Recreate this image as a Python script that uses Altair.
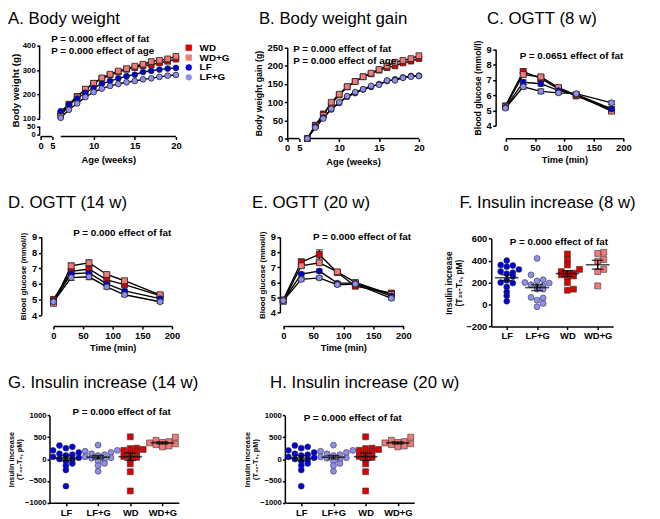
import altair as alt
import pandas as pd

FONT = "Liberation Sans"
GROUPS = ["WD", "WD+G", "LF", "LF+G"]
FILLS = ["#dd0000", "#f27a7a", "#0000dd", "#8f8ff0"]
SHAPES = ["square", "square", "circle", "circle"]
CATS = ["LF", "LF+G", "WD", "WD+G"]

# ---------- A. Body weight (g) ----------
weeks = [6, 7, 8, 9, 10, 11, 12, 13, 14, 15, 16, 17, 18, 19, 20]
bw_WD = [120, 160, 192, 220, 245, 265, 280, 292, 303, 310, 318, 322, 330, 336, 345]
bw_WDG = [112, 155, 190, 222, 246, 268, 283, 296, 306, 316, 324, 335, 340, 346, 356]
bw_LF = [131, 158, 183, 207, 226, 243, 255, 266, 275, 281, 292, 297, 302, 306, 309]
bw_LFG = [104, 137, 163, 189, 210, 224, 235, 243, 250, 255, 262, 266, 272, 277, 280]

# ---------- B. Body weight gain (g) ----------
gain_WD = [0, 37, 68, 95, 120, 142, 157, 170, 178, 188, 195, 200, 208, 213, 220]
gain_WDG = [0, 35, 64, 100, 122, 143, 157, 170, 180, 190, 200, 210, 215, 220, 228]
gain_LF = [0, 33, 58, 80, 98, 115, 125, 135, 142, 150, 158, 163, 168, 172, 173]
gain_LFG = [0, 30, 55, 82, 100, 117, 128, 136, 145, 148, 160, 160, 167, 170, 172]

# ---------- OGTT blood glucose (mmol/l) ----------
times = [0, 30, 60, 90, 120, 180]
c_WD = [5.30, 7.55, 7.10, 6.40, 5.95, 5.05]
c_WDG = [5.25, 7.35, 7.20, 6.50, 6.00, 4.95]
c_LF = [5.20, 6.85, 6.75, 6.30, 6.05, 5.10]
c_LFG = [5.15, 6.55, 6.25, 6.15, 6.10, 5.50]
c_se = [0.10, 0.15, 0.15, 0.10, 0.10, 0.12]

d_WD = [5.00, 6.80, 6.95, 6.25, 5.95, 5.25]
d_WDG = [4.75, 7.15, 7.35, 6.60, 6.20, 5.30]
d_LF = [4.90, 6.65, 6.70, 6.00, 5.55, 5.05]
d_LFG = [4.85, 6.40, 6.45, 5.80, 5.30, 4.85]
d_se = [0.10, 0.18, 0.18, 0.12, 0.10, 0.10]

e_WD = [4.85, 7.35, 7.85, 6.65, 5.75, 5.30]
e_WDG = [4.75, 7.10, 7.30, 6.70, 6.00, 5.20]
e_LF = [4.80, 6.55, 6.75, 5.95, 5.95, 5.10]
e_LFG = [4.80, 6.20, 6.30, 5.85, 5.90, 4.95]
e_se_WD = [0.10, 0.20, 0.30, 0.12, 0.10, 0.10]
e_se = [0.10, 0.12, 0.12, 0.10, 0.10, 0.10]

# ---------- Insulin increase (T30-T0, pM) ----------
f_LF = [400, 360, 355, 345, 320, 300, 290, 280, 255, 220, 200, 195, 160, 115, 80, 30]
f_LFG = [420, 270, 225, 215, 200, 195, 180, 170, 155, 140, 140, 65, 60, 40, 10, -20]
f_WD = [460, 410, 360, 320, 300, 285, 280, 270, 260, 250, 200, 140, 130]
f_WDG = [475, 465, 410, 395, 320, 300, 170]

g_LF = [310, 280, 250, 200, 150, 120, 100, 80, 50, 30, 0, -20, -50, -100, -150, -250, -620]
g_LFG = [320, 200, 180, 150, 120, 100, 80, 50, 30, 20, -20, -50, -100, -150, -280]
g_WD = [510, 250, 240, 220, 200, 180, 120, 60, 40, 20, -110, -290, -730]
g_WDG = [500, 430, 400, 380, 370, 350, 330, 300, 280]

h_LF = [310, 280, 250, 200, 150, 120, 100, 80, 50, 30, 0, -20, -50, -100, -150, -250, -620]
h_LFG = [320, 200, 180, 150, 120, 100, 80, 50, 30, 20, -20, -50, -100, -150, -280]
h_WD = [510, 250, 240, 220, 200, 180, 120, 60, 40, 20, -110, -290, -730]
h_WDG = [500, 430, 400, 380, 370, 350, 330, 300, 280]

W, H = 652, 511  # whole page area (one layered chart, every panel with its own scales)
INS_TITLE = ["Insulin increase", "(T₃₀-T₀, pM)"]


def long_df(xs, series, ses=None):
    rows = []
    for g in GROUPS:
        vals = series[g]
        se = ses[g] if ses else [0] * len(vals)
        for xi, v, s in zip(xs, vals, se):
            rows.append({"x": xi, "group": g, "value": v, "lo": v - s, "hi": v + s})
    return pd.DataFrame(rows)


def text_layer(txt, x, y, size=10, weight="bold"):
    return alt.Chart(pd.DataFrame({"t": [txt]})).mark_text(
        align="left", baseline="alphabetic", font=FONT, fontSize=size,
        fontWeight=weight, color="black"
    ).encode(text="t:N", x=alt.value(x), y=alt.value(y))


def fill_shape(legend=None):
    return (alt.Fill("group:N", scale=alt.Scale(domain=GROUPS, range=FILLS), legend=legend),
            alt.Shape("group:N", scale=alt.Scale(domain=GROUPS, range=SHAPES), legend=legend))


def xaxis(values, title, axis_y, domain=True, **kw):
    return alt.Axis(orient="bottom", offset=axis_y - H, values=values, title=title, domain=domain, **kw)


def yaxis(values, title, axis_x, domain=True, **kw):
    return alt.Axis(orient="left", offset=-axis_x, values=values, title=title, domain=domain, **kw)


def line_layers(df, xscale, xax, yscale, yax, legend=None, errors=True, size=36):
    X = lambda f="x": alt.X(f"{f}:Q", scale=xscale, axis=xax)
    Y = lambda f="value": alt.Y(f"{f}:Q", scale=yscale, axis=yax)
    fill, shape = fill_shape(legend)
    layers = []
    if errors:
        base = alt.Chart(df)
        layers.append(base.mark_rule(color="black", strokeWidth=1.2).encode(x=X(), y=Y("lo"), y2="hi:Q"))
        layers.append(base.mark_tick(color="black", orient="horizontal", size=7, thickness=1.2).encode(x=X(), y=Y("hi")))
        layers.append(base.mark_tick(color="black", orient="horizontal", size=7, thickness=1.2).encode(x=X(), y=Y("lo")))
    layers.append(alt.Chart(df).mark_line(color="black", strokeWidth=1.4).encode(x=X(), y=Y(), detail="group:N"))
    layers.append(alt.Chart(df).mark_point(filled=True, size=size, stroke="#222", strokeWidth=0.8, opacity=1)
                  .encode(x=X(), y=Y(), fill=fill, shape=shape))
    return layers


def swarm(vals, binw):
    order = sorted(range(len(vals)), key=lambda i: vals[i])
    counts, offs = {}, [0] * len(vals)
    for i in order:
        b = int(round(vals[i] / binw))
        k = counts.get(b, 0)
        counts[b] = k + 1
        m = (k + 1) // 2
        offs[i] = m if k % 2 == 1 else -m
    return offs


def scatter_layers(data, binw, xr, yscale, yax, axis_y):
    rows = []
    for gi, c in enumerate(CATS):
        vals = data[c]
        for v, o in zip(vals, swarm(vals, binw)):
            rows.append({"gi": gi, "px": gi + o * 0.2, "group": c, "value": v})
    df = pd.DataFrame(rows)
    xscale = alt.Scale(domain=[-0.51, 3.51], range=xr, nice=False, zero=False)
    xax = xaxis([0, 1, 2, 3], None, axis_y,
                labelExpr="['LF','LF+G','WD','WD+G'][datum.value]", labelFontSize=9.5)
    X = lambda f: alt.X(f"{f}:Q", scale=xscale, axis=xax)
    Y = lambda f: alt.Y(f"{f}:Q", scale=yscale, axis=yax)
    fill, shape = fill_shape()
    base = alt.Chart(df)
    pts = base.mark_point(filled=True, size=36, stroke="#333", strokeWidth=0.6, opacity=1).encode(
        x=X("px"), y=Y("value"), fill=fill, shape=shape)
    agg = base.transform_aggregate(m="mean(value)", s="stderr(value)", groupby=["gi"]).transform_calculate(
        lo="datum.m - datum.s", hi="datum.m + datum.s")
    mean_t = agg.mark_tick(orient="horizontal", size=24, thickness=1.6, color="black").encode(x=X("gi"), y=Y("m"))
    sem_r = agg.mark_rule(color="black", strokeWidth=1.4).encode(x=X("gi"), y=Y("lo"), y2="hi:Q")
    cap_hi = agg.mark_tick(orient="horizontal", size=12, thickness=1.4, color="black").encode(x=X("gi"), y=Y("hi"))
    cap_lo = agg.mark_tick(orient="horizontal", size=12, thickness=1.4, color="black").encode(x=X("gi"), y=Y("lo"))
    return [pts, sem_r, cap_hi, cap_lo, mean_t]


# ---------------- Panel A ----------------
dfA = long_df(weeks, {"WD": bw_WD, "WD+G": bw_WDG, "LF": bw_LF, "LF+G": bw_LFG})
xsA = alt.Scale(domain=[0, 5, 20], range=[33, 45, 170], nice=False, zero=False)
xaA = xaxis([0, 5, 10, 15, 20], "Age (weeks)", 127, domain=False, titleFontSize=9.5)
ysA = alt.Scale(domain=[0, 50, 100, 400], range=[125, 117, 109, 35], nice=False, zero=False)
yaA = yaxis([0, 50, 100, 200, 300, 400], "Body weight (g)", 32, domain=False, titleFontSize=10,
            titlePadding=1.5, labelFontSize=7.8)
legA = alt.Legend(title=None, orient="none", legendX=178, legendY=32, labelFont=FONT, labelFontSize=10,
                  labelFontWeight="bold", labelColor="black", symbolSize=40, symbolStrokeColor="#222",
                  symbolStrokeWidth=0.8, rowPadding=0, labelOffset=6)
ruleA_x = alt.Chart(pd.DataFrame({"x": [0, 6], "x2": [5, 20]})).mark_rule(color="black", strokeWidth=1.5).encode(
    x=alt.X("x:Q", scale=xsA, axis=xaA), x2="x2:Q", y=alt.value(127))
ruleA_y = alt.Chart(pd.DataFrame({"value": [0, 100], "v2": [50, 400]})).mark_rule(color="black", strokeWidth=1.5).encode(
    y=alt.Y("value:Q", scale=ysA, axis=yaA), y2="v2:Q", x=alt.value(32))
A = alt.layer(
    ruleA_x, ruleA_y,
    *line_layers(dfA, xsA, xaA, ysA, yaA, legend=legA, errors=False, size=34),
    text_layer("P = 0.000 effect of fat", 43.7, 31),
    text_layer("P = 0.000 effect of age", 43.7, 43),
    text_layer("A. Body weight", 0, 13, size=17, weight="normal"),
)

# ---------------- Panel B ----------------
dfB = long_df(weeks, {"WD": gain_WD, "WD+G": gain_WDG, "LF": gain_LF, "LF+G": gain_LFG})
xsB = alt.Scale(domain=[0, 5, 20], range=[282.7, 295, 416], nice=False, zero=False)
xaB = xaxis([0, 5, 10, 15, 20], "Age (weeks)", 129, domain=False, titleFontSize=9.5)
ysB = alt.Scale(domain=[0, 250], range=[129, 37], nice=False, zero=False)
yaB = yaxis([0, 50, 100, 150, 200, 250], "Body weight gain (g)", 282.7, titleFontSize=8.8)
ruleB_x = alt.Chart(pd.DataFrame({"x": [0, 5.7], "x2": [5, 20]})).mark_rule(color="black", strokeWidth=1.5).encode(
    x=alt.X("x:Q", scale=xsB, axis=xaB), x2="x2:Q", y=alt.value(129))
B = alt.layer(
    ruleB_x,
    *line_layers(dfB, xsB, xaB, ysB, yaB, errors=False, size=34),
    text_layer("P = 0.000 effect of fat", 288.7, 41.3),
    text_layer("P = 0.000 effect of age", 288.7, 53.7),
    text_layer("B. Body weight gain", 254, 13, size=17, weight="normal"),
)

# ---------------- Panel C ----------------
dfC = long_df(times, {"WD": c_WD, "WD+G": c_WDG, "LF": c_LF, "LF+G": c_LFG},
              {"WD": c_se, "WD+G": c_se, "LF": c_se, "LF+G": c_se})
xsC = alt.Scale(domain=[0, 200], range=[503.7, 623], nice=False, zero=False)
xaC = xaxis([0, 50, 100, 150, 200], "Time (min)", 128.7, titleFontSize=9.3)
ysC = alt.Scale(domain=[4, 9], range=[116, 38.7], nice=False, zero=False)
yaC = yaxis([4, 5, 6, 7, 8, 9], "Blood glucose (mmol/l)", 493.7, titleFontSize=8.7)
C = alt.layer(
    *line_layers(dfC, xsC, xaC, ysC, yaC),
    text_layer("P = 0.0651 effect of fat", 518, 48.5),
    text_layer("C. OGTT (8 w)", 485, 13, size=17, weight="normal"),
)

# ---------------- Panel D ----------------
dfD = long_df(times, {"WD": d_WD, "WD+G": d_WDG, "LF": d_LF, "LF+G": d_LFG},
              {"WD": d_se, "WD+G": d_se, "LF": d_se, "LF+G": d_se})
xsD = alt.Scale(domain=[0, 200], range=[46, 166], nice=False, zero=False)
xaD = xaxis([0, 50, 100, 150, 200], "Time (min)", 318.7, titleFontSize=9.3)
ysD = alt.Scale(domain=[4, 9], range=[307.7, 228.7], nice=False, zero=False)
yaD = yaxis([4, 5, 6, 7, 8, 9], "Blood glucose (mmol/l)", 33.7, titleFontSize=8)
D = alt.layer(
    *line_layers(dfD, xsD, xaD, ysD, yaD),
    text_layer("P = 0.000 effect of fat", 66, 228),
    text_layer("D. OGTT (14 w)", 0, 199, size=17, weight="normal"),
)

# ---------------- Panel E ----------------
dfE = long_df(times, {"WD": e_WD, "WD+G": e_WDG, "LF": e_LF, "LF+G": e_LFG},
              {"WD": e_se_WD, "WD+G": e_se, "LF": e_se, "LF+G": e_se})
xsE = alt.Scale(domain=[0, 200], range=[278.7, 400.3], nice=False, zero=False)
xaE = xaxis([0, 50, 100, 150, 200], "Time (min)", 318.7, titleFontSize=9.3)
ysE = alt.Scale(domain=[4, 9], range=[305.3, 228.7], nice=False, zero=False)
yaE = yaxis([4, 5, 6, 7, 8, 9], "Blood glucose (mmol/l)", 275.3, titleFontSize=8)
E = alt.layer(
    *line_layers(dfE, xsE, xaE, ysE, yaE),
    text_layer("P = 0.000 effect of fat", 308.7, 231.3),
    text_layer("E.  OGTT (20 w)", 247, 199, size=17, weight="normal"),
)

# ---------------- Panel F ----------------
ysF = alt.Scale(domain=[-200, 600], range=[319.3, 230.3], nice=False, zero=False)
yaF = yaxis([-200, 0, 200, 400, 600], INS_TITLE, 489.3,
            titleFontSize=8.5, titleLineHeight=10, titlePadding=2)
F = alt.layer(
    *scatter_layers({"LF": f_LF, "LF+G": f_LFG, "WD": f_WD, "WD+G": f_WDG}, 60, [489.3, 612.7], ysF, yaF, 319.3),
    text_layer("P = 0.000 effect of fat", 508, 237),
    text_layer("F. Insulin increase (8 w)", 457, 199, size=17, weight="normal"),
)

# ---------------- Panel G ----------------
ysG = alt.Scale(domain=[-1000, 1000], range=[497.7, 409.3], nice=False, zero=False)
yaG = yaxis([-1000, -500, 0, 500, 1000], INS_TITLE, 42, format="d",
            titleFontSize=7.4, titleLineHeight=8.2, titlePadding=0.5, labelFontSize=7.8,
            labelPadding=1, tickSize=2.5)
G = alt.layer(
    *scatter_layers({"LF": g_LF, "LF+G": g_LFG, "WD": g_WD, "WD+G": g_WDG}, 150, [42, 173], ysG, yaG, 497.7),
    text_layer("P = 0.000 effect of  fat", 65.3, 408.7),
    text_layer("G. Insulin increase (14 w)", 0, 382, size=17, weight="normal"),
)

# ---------------- Panel H ----------------
ysH = alt.Scale(domain=[-1000, 1000], range=[497.7, 409.3], nice=False, zero=False)
yaH = yaxis([-1000, -500, 0, 500, 1000], INS_TITLE, 280.3, format="d",
            titleFontSize=7.4, titleLineHeight=8.2, titlePadding=0.5, labelFontSize=7.8,
            labelPadding=1, tickSize=2.5)
Hp = alt.layer(
    *scatter_layers({"LF": h_LF, "LF+G": h_LFG, "WD": h_WD, "WD+G": h_WDG}, 150, [280.3, 411.3], ysH, yaH, 497.7),
    text_layer("P = 0.000 effect of fat", 299.3, 415),
    text_layer("H. Insulin increase (20 w)", 265.3, 382, size=17, weight="normal"),
)

chart = alt.layer(A, B, C, D, E, F, G, Hp).resolve_scale(
    x="independent", y="independent", fill="independent", shape="independent"
).resolve_axis(x="independent", y="independent").resolve_legend(
    fill="independent", shape="independent"
).properties(
    width=W, height=H, padding=0, autosize=alt.AutoSizeParams(type="none")
).configure_axis(
    domainColor="black", domainWidth=1.5, tickColor="black", tickWidth=1.5, tickSize=3,
    labelColor="black", labelFont=FONT, labelFontSize=9.5, labelFontWeight="bold",
    titleColor="black", titleFont=FONT, titleFontWeight="bold", titlePadding=4,
    grid=False, labelPadding=1.5, labelOverlap=False, labelFlush=False
).configure_view(stroke=None)

chart.save("out.html", embed_options={"renderer": "svg", "actions": False})
